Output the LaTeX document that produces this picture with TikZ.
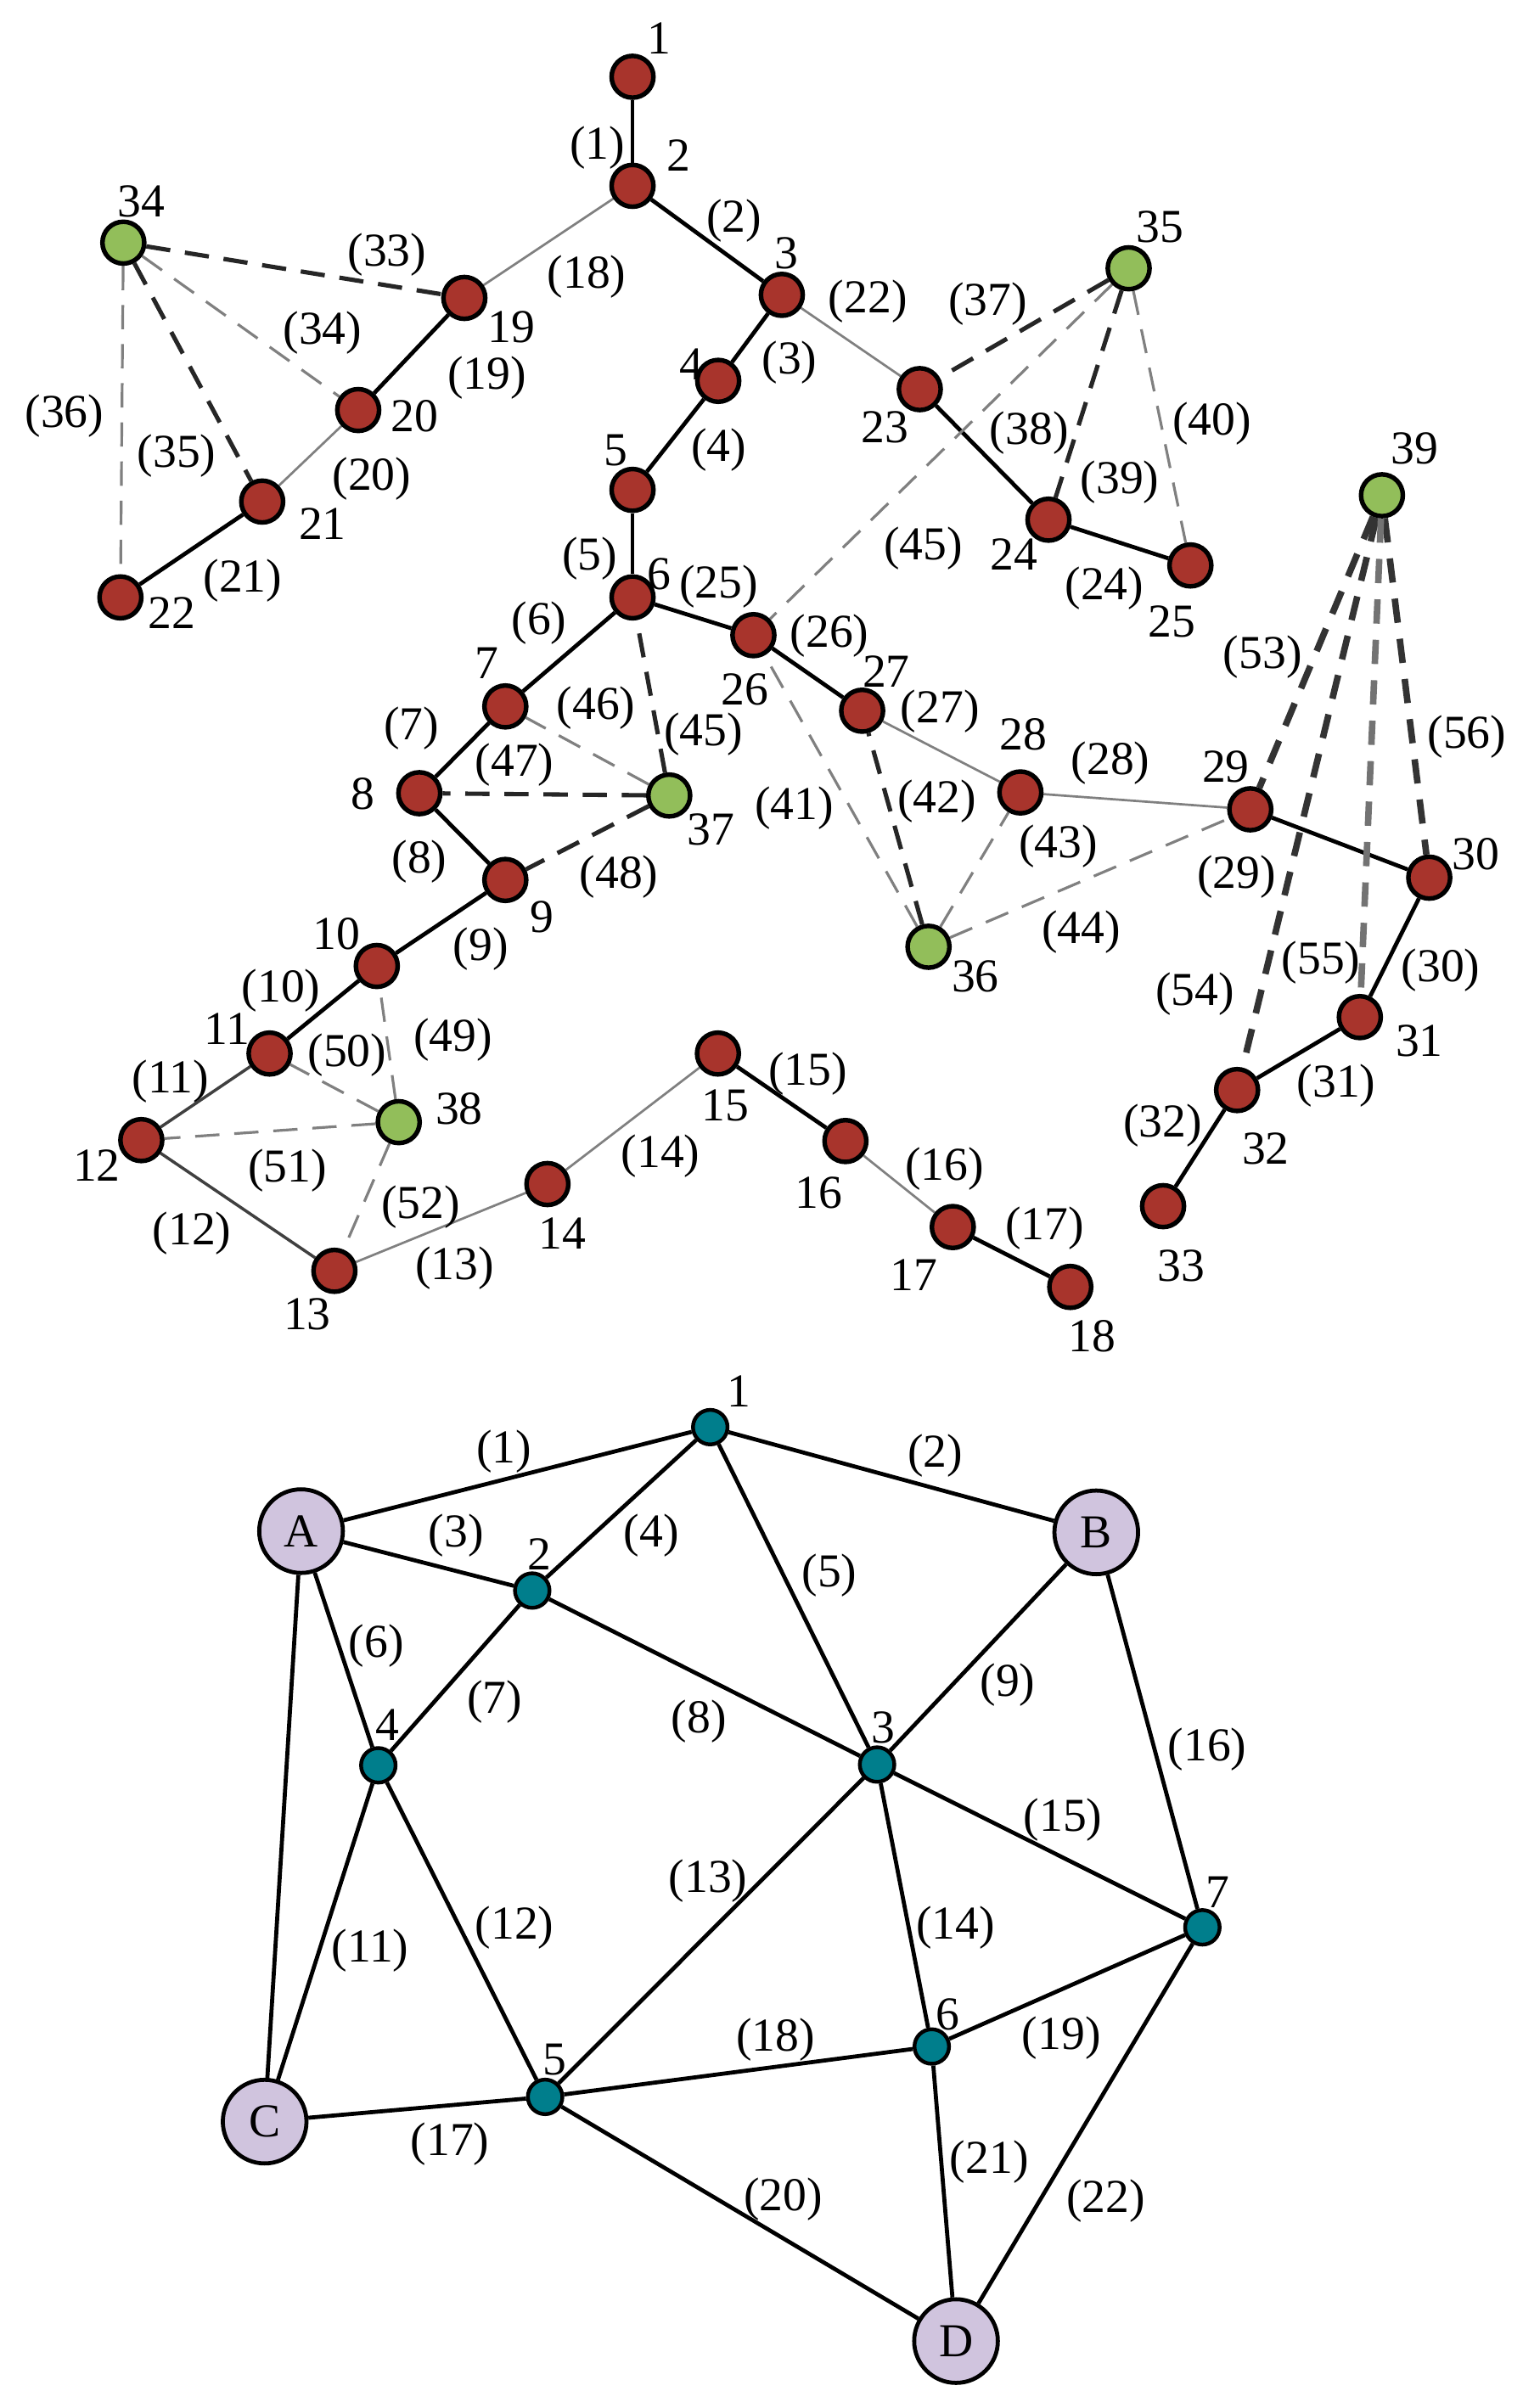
\documentclass[tikz,border=0pt]{standalone}
\usepackage{fontspec}
\setmainfont{Liberation Serif}
\definecolor{nred}{RGB}{168,52,44}
\definecolor{ngreen}{RGB}{146,190,90}
\definecolor{nteal}{RGB}{0,126,140}
\definecolor{nlav}{RGB}{208,196,222}
\pgfdeclarelayer{bg}
\pgfdeclarelayer{edges}
\pgfsetlayers{bg,edges,main}
\begin{document}
\begin{tikzpicture}[x=0.02cm,y=-0.02cm,
  font=\fontsize{17.5}{20}\selectfont,
  rn/.style={circle,draw=black,line width=1.7pt,fill=nred,minimum size=15.5pt,inner sep=0pt},
  gn/.style={circle,draw=black,line width=1.7pt,fill=ngreen,minimum size=15.5pt,inner sep=0pt},
  tn/.style={circle,draw=black,line width=1.4pt,fill=nteal,minimum size=12.8pt,inner sep=0pt},
  bn/.style={circle,draw=black,line width=1.5pt,fill=nlav,minimum size=31pt,inner sep=0pt},
  txt/.style={inner sep=0pt},
  sk/.style={line width=1.5pt,black},
  sd/.style={line width=1.1pt,black!75},
  sg/.style={line width=0.85pt,black!50},
  dk/.style={line width=1.6pt,black!85,dash pattern=on 9pt off 5.5pt},
  dg/.style={line width=1.0pt,black!50,dash pattern=on 9pt off 5.5pt},
  dx/.style={line width=2.4pt,black!80,dash pattern=on 9pt off 6pt},
  dxg/.style={line width=2.4pt,black!55,dash pattern=on 9pt off 6pt},
  be/.style={line width=1.5pt,black}]
\useasboundingbox (0,0) rectangle (991,1568);
\begin{pgfonlayer}{bg}
\fill[white] (0,0) rectangle (991,1568);
\end{pgfonlayer}
% ---------- top graph: nodes ----------
\foreach \n/\x/\y in {1/411.8/50, 2/411.8/121, 3/509/192, 4/467.6/248, 5/411.8/319,
  6/411.8/389, 7/329/460, 8/273/516.5, 9/329/573, 10/245.3/629, 11/175.5/686,
  12/92/742.4, 13/217.7/827.5, 14/356.4/771, 15/467.4/686, 16/550.4/743,
  17/620.3/799, 18/696.8/838, 19/302.3/194, 20/233.2/267, 21/170.7/326.6,
  22/78.4/389, 23/598.8/253.4, 24/682.6/338.4, 25/775/368.2, 26/490.5/413.6,
  27/561.3/462.8, 28/664.3/516, 29/814/527, 30/930.5/571.5, 31/885.3/662.3,
  32/805.4/709.8, 33/757.2/785.4}
  \node[rn] (t\n) at (\x,\y) {};
\foreach \n/\x/\y in {34/80.3/158, 35/734.8/174.7, 36/604.5/616.5, 37/435.7/518,
  38/259.6/730.7, 39/899.7/322.5}
  \node[gn] (t\n) at (\x,\y) {};
% node numbers
\foreach \n/\x/\y in {1/429/25, 2/442/101, 3/512/165, 4/450/237, 5/401/293, 6/429/374,
  7/317/432, 8/236/517, 9/353/597, 10/219/608, 11/148/670, 12/63/759, 13/200/856,
  14/366/803, 15/472/720, 16/533/777, 17/595/830, 18/711/870, 19/333/213,
  20/270/271, 21/210/341, 22/112/399, 23/576/278, 24/660/361, 25/763/405,
  26/485/449, 27/577/437, 28/666/478, 29/798/499, 30/961/556, 31/924/678,
  32/824/748, 33/769/824, 34/92/131, 35/755/148, 36/635/636, 37/463/540,
  38/299/722, 39/921/292}
  \node[txt] (tl\n) at (\x,\y) {\n};
% edge labels
\foreach \i/\t/\x/\y in {1/1/389/96, 2/2/478/144, 3/3/514/236, 4/4/468/293, 5/5/384/364,
  6/6/351/406, 7/7/268/474, 8/8/273/561, 9/9/313/618, 10/10/183/645, 11/11/111/704,
  12/12/125/803, 13/13/296/826, 14/14/430/753, 15/15/526/699, 16/16/615/761,
  17/17/680/800, 18/18/382/180, 19/19/317/246, 20/20/242/312, 21/21/158/378,
  22/22/565/196, 24/24/719/383, 25/25/468/382, 26/26/540/414, 27/27/612/463,
  28/28/723/497, 29/29/805/571, 30/30/938/632, 31/31/870/707, 32/32/757/733,
  33/33/252/166, 34/34/210/217, 35/35/115/297, 36/36/42/271, 37/37/643/198,
  38/38/670/282, 39/39/729/314, 40/40/789/276, 41/41/517/526, 42/42/610/522,
  43/43/689/551, 44/44/704/607, 45a/45/601/357, 45b/45/458/478, 46/46/388/461,
  47/47/335/498, 48/48/403/571, 49/49/295/677, 50/50/226/687, 51/51/187/762,
  52/52/274/786, 53/53/822/428, 54/54/778/647, 55/55/860/627, 56/56/955/480}
  \node[txt] (te\i) at (\x,\y) {(\t)};
% ---------- bottom graph: nodes ----------
\foreach \n/\x/\y in {1/462.4/929.3, 2/346.5/1035.7, 3/571/1149, 4/246.3/1149.5,
  5/354.9/1365.4, 6/606.6/1332.6, 7/782.8/1255}
  \node[tn] (b\n) at (\x,\y) {};
\foreach \n/\x/\y in {A/196/997, B/713.7/997.8, C/172.3/1381.5, D/622.4/1524.4}
  \node[bn] (b\n) at (\x,\y) {\n};
\foreach \n/\x/\y in {1/481/906, 2/351/1012, 3/575/1125, 4/252/1123, 5/361/1341,
  6/617/1312, 7/793/1232}
  \node[txt] (bl\n) at (\x,\y) {\n};
\foreach \i/\x/\y in {1/328/945, 2/609/948, 3/297/1000, 4/424/1000, 5/540/1026,
  6/245/1072, 7/322/1108, 8/455/1121, 9/656/1097, 11/241/1270, 12/335/1255,
  13/461/1225, 14/622/1255, 15/692/1185, 16/786/1139, 17/293/1396, 18/505/1328,
  19/691/1327, 20/510/1432, 21/644/1408, 22/720/1433}
  \node[txt] (be\i) at (\x,\y) {(\i)};
% ---------- edges ----------
\begin{pgfonlayer}{edges}
\foreach \a/\b in {1/2, 2/3, 3/4, 4/5, 5/6, 6/7, 7/8, 8/9, 9/10, 10/11, 15/16, 17/18,
  19/20, 21/22, 23/24, 24/25, 6/26, 26/27, 29/30, 30/31, 31/32, 32/33}
  \draw[sk] (t\a) -- (t\b);
\foreach \a/\b in {11/12, 12/13}
  \draw[sd] (t\a) -- (t\b);
\foreach \a/\b in {13/14, 14/15, 16/17, 2/19, 20/21, 3/23, 27/28, 28/29}
  \draw[sg] (t\a) -- (t\b);
\foreach \a/\b in {34/19, 34/21, 35/23, 35/24, 36/27, 37/6, 37/8, 37/9}
  \draw[dk] (t\a) -- (t\b);
\foreach \a/\b in {34/20, 34/22, 35/26, 35/25, 36/26, 36/28, 36/29, 37/7,
  38/10, 38/11, 38/12, 38/13}
  \draw[dg] (t\a) -- (t\b);
\foreach \a/\b in {39/29, 39/32, 39/30}
  \draw[dx] (t\a) -- (t\b);
\draw[dxg] (t39) -- (t31);
\foreach \a/\b in {A/1, 1/B, A/2, 2/1, 1/3, A/4, 4/2, 2/3, 3/B, A/C, 4/C, 4/5, 5/3,
  3/6, 3/7, B/7, C/5, 5/6, 6/7, 5/D, 6/D, 7/D}
  \draw[be] (b\a) -- (b\b);
\end{pgfonlayer}
\end{tikzpicture}
\end{document}
